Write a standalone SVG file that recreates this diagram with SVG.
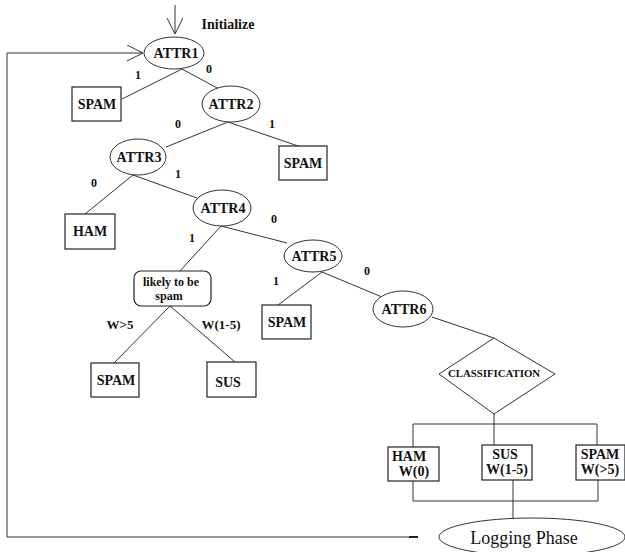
<svg xmlns="http://www.w3.org/2000/svg" width="625" height="552" viewBox="0 0 625 552">
<style>
.ln{stroke:#333;stroke-width:1;fill:none}
.box{stroke:#222;stroke-width:1.2;fill:#fff}
.ell{stroke:#333;stroke-width:1;fill:#fff}
.t{font-family:"Liberation Serif","Times New Roman",serif;font-weight:bold;fill:#111;text-anchor:middle}
.reg{font-family:"Liberation Serif","Times New Roman",serif;font-weight:normal;font-size:18px;fill:#111;text-anchor:middle}
.n{font-size:14px}
.lb{font-size:12px}
</style>
<defs>
<marker id="arr" markerUnits="userSpaceOnUse" markerWidth="20" markerHeight="20" refX="16" refY="8" orient="auto">
<path d="M0,0 L16,8 L0,16" fill="none" stroke="#333" stroke-width="1"/>
</marker>
</defs>
<g id="connectors">
<line class="ln" x1="175" y1="5" x2="175" y2="34" marker-end="url(#arr)"/>
<polyline class="ln" stroke="#555" stroke-width="1.3" points="417,537 7,537 7,53 143,53" marker-end="url(#arr)"/>
<line x1="409" y1="537" x2="418" y2="537" stroke="#222" stroke-width="2"/>
<line class="ln" x1="182" y1="69" x2="122" y2="99"/>
<line class="ln" x1="182" y1="69" x2="219" y2="89"/>
<line class="ln" x1="228" y1="122" x2="166" y2="147"/>
<line class="ln" x1="228" y1="122" x2="301" y2="147"/>
<line class="ln" x1="133" y1="175" x2="85" y2="214"/>
<line class="ln" x1="133" y1="175" x2="197" y2="198"/>
<line class="ln" x1="221" y1="226" x2="180" y2="271"/>
<line class="ln" x1="221" y1="226" x2="287" y2="243"/>
<line class="ln" x1="170" y1="306" x2="114" y2="363"/>
<line class="ln" x1="170" y1="306" x2="235" y2="362"/>
<line class="ln" x1="322" y1="272" x2="278" y2="305"/>
<line class="ln" x1="322" y1="272" x2="382" y2="297"/>
<line class="ln" x1="432" y1="317" x2="494" y2="338"/>
<polyline class="ln" points="413,447 413,424 597,424 597,445"/>
<line class="ln" x1="494" y1="414" x2="494" y2="445"/>
<polyline class="ln" points="413,481 413,501 598,501 598,480"/>
<line class="ln" x1="513" y1="480" x2="513" y2="518"/>
</g>
<text class="t n" x="228" y="29">Initialize</text>
<g class="t lb">
<text x="138" y="79">1</text>
<text x="209" y="73">0</text>
<text x="178" y="128">0</text>
<text x="272" y="128">1</text>
<text x="94" y="187">0</text>
<text x="178" y="178">1</text>
<text x="192" y="242">1</text>
<text x="274" y="223">0</text>
<text x="276" y="285">1</text>
<text x="367" y="275">0</text>
<text x="120" y="329" font-size="13">W&gt;5</text>
<text x="221" y="329" font-size="13">W(1-5)</text>
</g>
<g id="attr1"><ellipse class="ell" cx="174" cy="53" rx="30" ry="16"/><text class="t n" x="176" y="58">ATTR1</text></g>
<g id="spam1"><rect class="box" x="72" y="87" width="49" height="34"/><text class="t n" x="97" y="109">SPAM</text></g>
<g id="attr2"><ellipse class="ell" cx="231" cy="104" rx="29" ry="18"/><text class="t n" x="231" y="109">ATTR2</text></g>
<g id="spam2"><rect class="box" x="279" y="146" width="48" height="34"/><text class="t n" x="303" y="168">SPAM</text></g>
<g id="attr3"><ellipse class="ell" cx="138" cy="157" rx="28" ry="18"/><text class="t n" x="139" y="162">ATTR3</text></g>
<g id="ham1"><rect class="box" x="65" y="214" width="50" height="35"/><text class="t n" x="90" y="236">HAM</text></g>
<g id="attr4"><ellipse class="ell" cx="222" cy="208" rx="29" ry="18"/><text class="t n" x="223" y="213">ATTR4</text></g>
<g id="likely"><rect class="box" x="134" y="271" width="77" height="35" rx="7"/><text class="t lb" x="171" y="286">likely to be</text><text class="t lb" x="169" y="300">spam</text></g>
<g id="spam3"><rect class="box" x="91" y="363" width="48" height="34"/><text class="t n" x="116" y="385">SPAM</text></g>
<g id="sus1"><rect class="box" x="207" y="362" width="49" height="35"/><text class="t n" x="228" y="387">SUS</text></g>
<g id="attr5"><ellipse class="ell" cx="313" cy="256" rx="29" ry="16"/><text class="t n" x="314" y="261">ATTR5</text></g>
<g id="spam4"><rect class="box" x="262" y="305" width="49" height="34"/><text class="t n" x="287" y="327">SPAM</text></g>
<g id="attr6"><ellipse class="ell" cx="403" cy="309" rx="30" ry="18"/><text class="t n" x="404" y="314">ATTR6</text></g>
<g id="classification"><polygon class="ell" points="494,338 555,374 494,414 439,374"/><text class="t" font-size="10.8" x="494" y="377">CLASSIFICATION</text></g>
<g id="ham2"><rect class="box" x="388" y="447" width="51" height="34"/><text class="t n" x="409" y="461">HAM</text><text class="t n" x="414" y="476">W(0)</text></g>
<g id="sus2"><rect class="box" x="482" y="445" width="50" height="35"/><text class="t n" x="505" y="459">SUS</text><text class="t n" x="507" y="474">W(1-5)</text></g>
<g id="spam5"><rect class="box" x="576" y="445" width="49" height="35"/><text class="t n" x="600" y="459">SPAM</text><text class="t n" x="600" y="474">W(&gt;5)</text></g>
<g id="logging"><ellipse class="ell" cx="532" cy="537" rx="93" ry="19"/><text class="reg" x="524" y="544">Logging Phase</text></g>
</svg>
